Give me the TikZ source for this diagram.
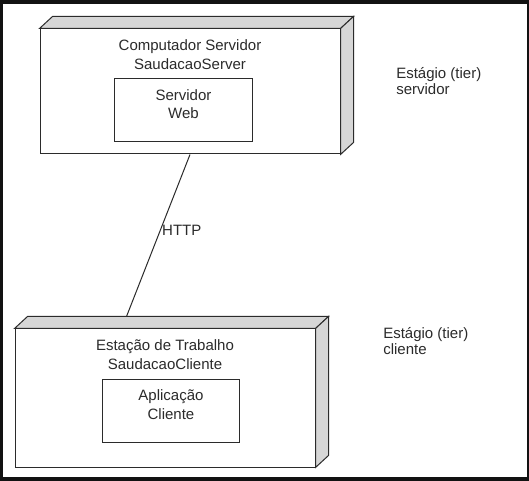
\documentclass[tikz,border=0pt]{standalone}
\usepackage{fontspec}
\setmainfont{Liberation Sans}
\usetikzlibrary{positioning}
\definecolor{sidegray}{HTML}{D6D6D6}
\definecolor{umlink}{HTML}{2B2B2B}
\newcommand\umlfont[1]{\fontsize{11.25pt}{#1}\selectfont}
\tikzstyle{devbox}=[rectangle, draw=umlink, fill=white, line width=0.75pt, minimum width=225pt, inner sep=0pt]
\tikzstyle{devside}=[draw=umlink, fill=sidegray, line width=0.75pt]
\tikzstyle{devtitle}=[text=umlink, align=center, inner sep=0pt, font=\umlfont{14.5pt}]
\tikzstyle{artbox}=[rectangle, draw=umlink, line width=0.75pt, text=umlink, align=center, font=\umlfont{13.5pt}, inner sep=0pt, minimum width=103pt, minimum height=47.25pt, text height=22.5pt, text depth=9.75pt]
\tikzstyle{tierlabel}=[text=umlink, align=left, inner sep=0pt, font=\umlfont{12pt}]
\tikzstyle{line}=[-, draw=umlink, line width=0.75pt]
\newcommand\devnode[6][]{
            \node (#2) [devbox, #1] at (#3) {};
            \draw[devside] (#2.north west) -- ++(13,-12) -- ([shift={(13,-12)}]#2.north east) -- (#2.north east) -- cycle;
            \draw[devside] (#2.north east) -- ++(13,-12) -- ([shift={(13,-12)}]#2.south east) -- (#2.south east) -- cycle;
            \node ({#2}t) [devtitle, below=30.75pt of {#2}.north, anchor=base] {#4};
            \node ({#2}a) [artbox, below=37.5pt of {#2}.north, #6] {#5};
        }
\begin{document}
\begin{tikzpicture}[x=0.75pt, y=-0.75pt]

    \fill[black!93] (0,0) rectangle (529,481);
    \fill[white] (3,4) rectangle (527,477);

% server tier
    \devnode[minimum height=93.75pt]{srv}{190,91.5}{Computador Servidor\\SaudacaoServer}{Servidor\\Web}{xshift=-4.9pt}
% client tier
    \devnode[minimum height=103.5pt]{cli}{165,398}{Estação de Trabalho\\SaudacaoCliente}{Aplicação\\Cliente}{xshift=4.5pt}

    \node (tiersrv) [tierlabel, anchor=base west] at (396,94.3) {Estágio (tier)\\servidor};
    \node (tiercli) [tierlabel, anchor=base west] at (383,354.3) {Estágio (tier)\\cliente};

    \coordinate (httpend) at ([shift={(112,-12)}]cli.north west);
   \draw[line] (srv.south) -- node (http) [tierlabel, pos=0.466, anchor=west, inner sep=1pt] {HTTP} (httpend);

\end{tikzpicture}
\end{document}
